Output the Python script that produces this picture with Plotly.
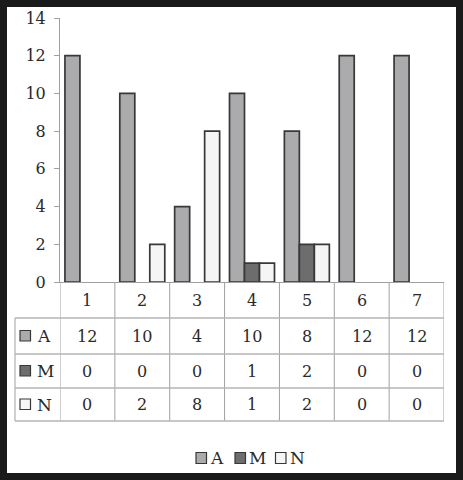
import plotly.graph_objects as go

categories = [1, 2, 3, 4, 5, 6, 7]
series_names = ['A', 'M', 'N']
values_a = [12, 10, 4, 10, 8, 12, 12]
values_m = [0, 0, 0, 1, 2, 0, 0]
values_n = [0, 2, 8, 1, 2, 0, 0]
y_ticks = [0, 2, 4, 6, 8, 10, 12, 14]

W, H = 463, 480
FONT = 'DejaVu Serif'
TXT = '#2a2a2a'
GRID = '#a0a0a0'
OUTLINE = '#383838'
fills = {'A': '#ababae', 'M': '#6d6d6e', 'N': '#f5f5f5'}
series = {'A': values_a, 'M': values_m, 'N': values_n}


def px(x):
    return x / W


def py(y):
    # pixel from top -> paper from bottom
    return 1 - y / H


fig = go.Figure()
for name in series_names:
    vals = series[name]
    # zero bars get no outline, so nothing shows on the axis
    widths = [1.7 if v else 0 for v in vals]
    fig.add_trace(go.Bar(x=categories, y=vals, name=name,
                         marker=dict(color=fills[name],
                                     line=dict(color=OUTLINE, width=widths))))

# table geometry (pixels)
plot_left, plot_right, plot_top, plot_bottom = 60, 444, 18, 282
table_left = 15
row_edges = [282, 318, 354, 388, 421]

shapes = []
# outer frame
shapes.append(dict(type='rect', xref='paper', yref='paper',
                   x0=px(3.5), x1=px(W - 3.5), y0=py(H - 3.5), y1=py(3.5),
                   line=dict(color='#1a1a1a', width=7)))
# vertical lines of the table, on the category boundaries
for i in range(len(categories) + 1):
    xb = categories[0] - 0.5 + i
    shapes.append(dict(type='line', xref='x', yref='paper', x0=xb, x1=xb,
                       y0=py(row_edges[0]), y1=py(row_edges[-1]),
                       line=dict(color=GRID, width=1)))
shapes.append(dict(type='line', xref='paper', yref='paper',
                   x0=px(table_left), x1=px(table_left),
                   y0=py(row_edges[1]), y1=py(row_edges[-1]),
                   line=dict(color=GRID, width=1)))
for ye in row_edges[1:]:
    shapes.append(dict(type='line', xref='paper', yref='paper',
                       x0=px(table_left), x1=px(plot_right),
                       y0=py(ye), y1=py(ye),
                       line=dict(color='#b4b4b4', width=1.4)))


def label(x, y, text, xref='paper', xanchor='center', size=16):
    return dict(x=x, y=y, xref=xref, yref='paper', xanchor=xanchor,
                yanchor='middle', text=text, showarrow=False,
                font=dict(family=FONT, size=size, color=TXT))


annotations = []
header_y = (row_edges[0] + row_edges[1]) / 2
for c in categories:
    annotations.append(label(c, py(header_y), str(c), xref='x'))

for r, name in enumerate(series_names):
    yc = (row_edges[r + 1] + row_edges[r + 2]) / 2
    shapes.append(dict(type='rect', xref='paper', yref='paper',
                       x0=px(20), x1=px(30.5), y0=py(yc + 5), y1=py(yc - 5.5),
                       fillcolor=fills[name], line=dict(color=OUTLINE, width=1.2)))
    annotations.append(label(px(34.5), py(yc), name, xanchor='left', size=17))
    for c, v in zip(categories, series[name]):
        annotations.append(label(c, py(yc), str(v), xref='x'))

# legend drawn under the table
legend_sq = [196, 235, 275.5]
legend_y = 458
for name, x0 in zip(series_names, legend_sq):
    shapes.append(dict(type='rect', xref='paper', yref='paper',
                       x0=px(x0), x1=px(x0 + 10.5), y0=py(legend_y + 5.5), y1=py(legend_y - 5.5),
                       fillcolor=fills[name], line=dict(color=OUTLINE, width=1.2)))
    annotations.append(label(px(x0 + 12), py(legend_y), name, xanchor='left', size=17))

fig.update_layout(
    width=W, height=H,
    margin=dict(l=0, r=0, t=0, b=0, autoexpand=False),
    paper_bgcolor='white', plot_bgcolor='white',
    barmode='group', bargap=0.18, bargroupgap=0,
    showlegend=False,
    shapes=shapes, annotations=annotations,
    xaxis=dict(domain=[px(plot_left), px(plot_right)], range=[0.5, 7.5],
               showticklabels=False, showgrid=False, zeroline=False, automargin=False,
               showline=True, linecolor=GRID, linewidth=1, ticks=''),
    yaxis=dict(domain=[py(plot_bottom), py(plot_top)], range=[0, 14],
               tickvals=y_ticks, showgrid=False, zeroline=False, automargin=False,
               showline=True, linecolor=GRID, linewidth=1,
               ticks='outside', ticklen=5, tickcolor=GRID, ticklabelstandoff=5,
               tickfont=dict(family=FONT, size=16, color=TXT)),
)

fig.write_html("out.html", config={'displayModeBar': False},
               post_script="document.body.style.margin='0';"
                           "document.body.style.overflow='hidden';")
